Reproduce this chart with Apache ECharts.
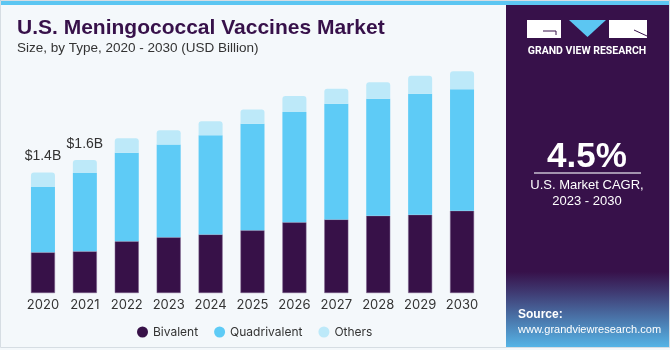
<!DOCTYPE html>
<html>
<head>
<meta charset="utf-8">
<script src="https://cdn.jsdelivr.net/npm/echarts@6/dist/echarts.min.js"></script>
<style>html,body{margin:0;padding:0;background:#f4f8fb;}#c{width:670px;height:350px;}</style>
</head>
<body>
<div id="c"></div>
<script>
var categories = ['2020','2021','2022','2023','2024','2025','2026','2027','2028','2029','2030'];
var bivalent = [0.482,0.494,0.613,0.660,0.695,0.743,0.838,0.873,0.916,0.928,0.975];
var quadrivalent = [0.774,0.928,1.050,1.102,1.177,1.263,1.307,1.370,1.386,1.434,1.442];
var others = [0.174,0.154,0.171,0.169,0.166,0.171,0.190,0.178,0.198,0.213,0.213];
var totalLabels = ['$1.4B','$1.6B','','','','','','','','',''];

var chart = echarts.init(document.getElementById('c'), null, {renderer:'canvas'});
var FONT = 'Inter, Roboto, sans-serif';
var option = {
  backgroundColor: '#f4f8fb',
  animation: false,
  graphic: [
    {type:'rect', shape:{x:0,y:0,width:670,height:5}, style:{fill:'#5cc6f2'}, z:-1},
    {type:'rect', shape:{x:0.5,y:0.5,width:669,height:347}, style:{fill:'none', stroke:'#d6dde3', lineWidth:1}, z:-1},
    {type:'rect', shape:{x:506,y:5,width:163,height:342},
      style:{fill:new echarts.graphic.LinearGradient(0,0,0,1,[
        {offset:0,color:'#37114a'},{offset:0.78,color:'#37114a'},{offset:0.84,color:'#3f3a72'},{offset:1,color:'#56b4e6'}])}, z:0},
    // logo
    {type:'rect', shape:{x:527,y:20,width:34,height:18}, style:{fill:'#ffffff'}, z:1},
    {type:'polyline', shape:{points:[[543,31],[556,31],[556,35]]}, style:{stroke:'#37114a', lineWidth:1, fill:'none'}, z:2},
    {type:'polygon', shape:{points:[[569,20],[606,20],[587.5,37]]}, style:{fill:'#5cc6f2'}, z:1},
    {type:'rect', shape:{x:609,y:20,width:38,height:18}, style:{fill:'#ffffff'}, z:1},
    {type:'line', shape:{x1:634,y1:30,x2:647,y2:36}, style:{stroke:'#37114a', lineWidth:1}, z:2},
    {type:'text', x:587, y:51, style:{text:'GRAND VIEW RESEARCH', fill:'#ffffff', font:'bold 10.5px Roboto, sans-serif', textAlign:'center', textVerticalAlign:'middle'}, z:2},
    {type:'text', x:587, y:157, style:{text:'4.5%', fill:'#ffffff', font:'bold 35px "Liberation Sans", Arial, sans-serif', textAlign:'center', textVerticalAlign:'middle'}, z:2},
    {type:'line', shape:{x1:534,y1:173,x2:641,y2:173}, style:{stroke:'#c8bfd0', lineWidth:1.5}, z:2},
    {type:'text', x:587, y:185, style:{text:'U.S. Market CAGR,', fill:'#ffffff', font:'13px "Liberation Sans", Arial, sans-serif', textAlign:'center', textVerticalAlign:'middle'}, z:2},
    {type:'text', x:587, y:201, style:{text:'2023 - 2030', fill:'#ffffff', font:'13px "Liberation Sans", Arial, sans-serif', textAlign:'center', textVerticalAlign:'middle'}, z:2},
    {type:'text', x:518, y:315, style:{text:'Source:', fill:'#ffffff', font:'bold 12px "Liberation Sans", Arial, sans-serif', textVerticalAlign:'middle'}, z:2},
    {type:'text', x:518, y:330, style:{text:'www.grandviewresearch.com', fill:'#ffffff', font:'11px "Liberation Sans", Arial, sans-serif', textVerticalAlign:'middle'}, z:2},
    // titles
    {type:'text', x:17, y:28, style:{text:'U.S. Meningococcal Vaccines Market', fill:'#37114a', font:'bold 21px "Liberation Sans", Arial, sans-serif', textVerticalAlign:'middle'}, z:2},
    {type:'text', x:17, y:48, style:{text:'Size, by Type, 2020 - 2030 (USD Billion)', fill:'#333333', font:'13.5px "Liberation Sans", Arial, sans-serif', textVerticalAlign:'middle'}, z:2}
  ],
  grid: {left:22, right:187, top:40, bottom:57},
  legend: {
    data:['Bivalent','Quadrivalent','Others'],
    left:132, top:321, icon:'circle', itemWidth:11, itemHeight:11, itemGap:16,
    itemStyle:{borderWidth:0},
    textStyle:{color:'#333333', fontSize:12, fontFamily:FONT}
  },
  xAxis: {
    type:'category', data:categories,
    axisLine:{show:false}, axisTick:{show:false},
    axisLabel:{color:'#333333', fontSize:13, fontFamily:FONT, margin:6, interval:0}
  },
  yAxis: {type:'value', min:0, max:3, show:false, splitLine:{show:false}},
  series: [
    {name:'Bivalent', type:'bar', stack:'t', data:bivalent, barWidth:24,
      itemStyle:{color:'#371148', borderColor:'#7a5e8a', borderWidth:0.5}},
    {name:'Quadrivalent', type:'bar', stack:'t', data:quadrivalent, barWidth:24,
      itemStyle:{color:'#5ecbf6'}},
    {name:'Others', type:'bar', stack:'t', data:others, barWidth:24,
      itemStyle:{color:'#bde9f9', borderRadius:[3,3,0,0]},
      label:{show:true, position:'top', distance:9, color:'#333333', fontSize:14, fontFamily:'"Liberation Sans", Arial, sans-serif',
        formatter:function(p){return totalLabels[p.dataIndex];}}}
  ]
};
chart.setOption(option);
</script>
</body>
</html>
